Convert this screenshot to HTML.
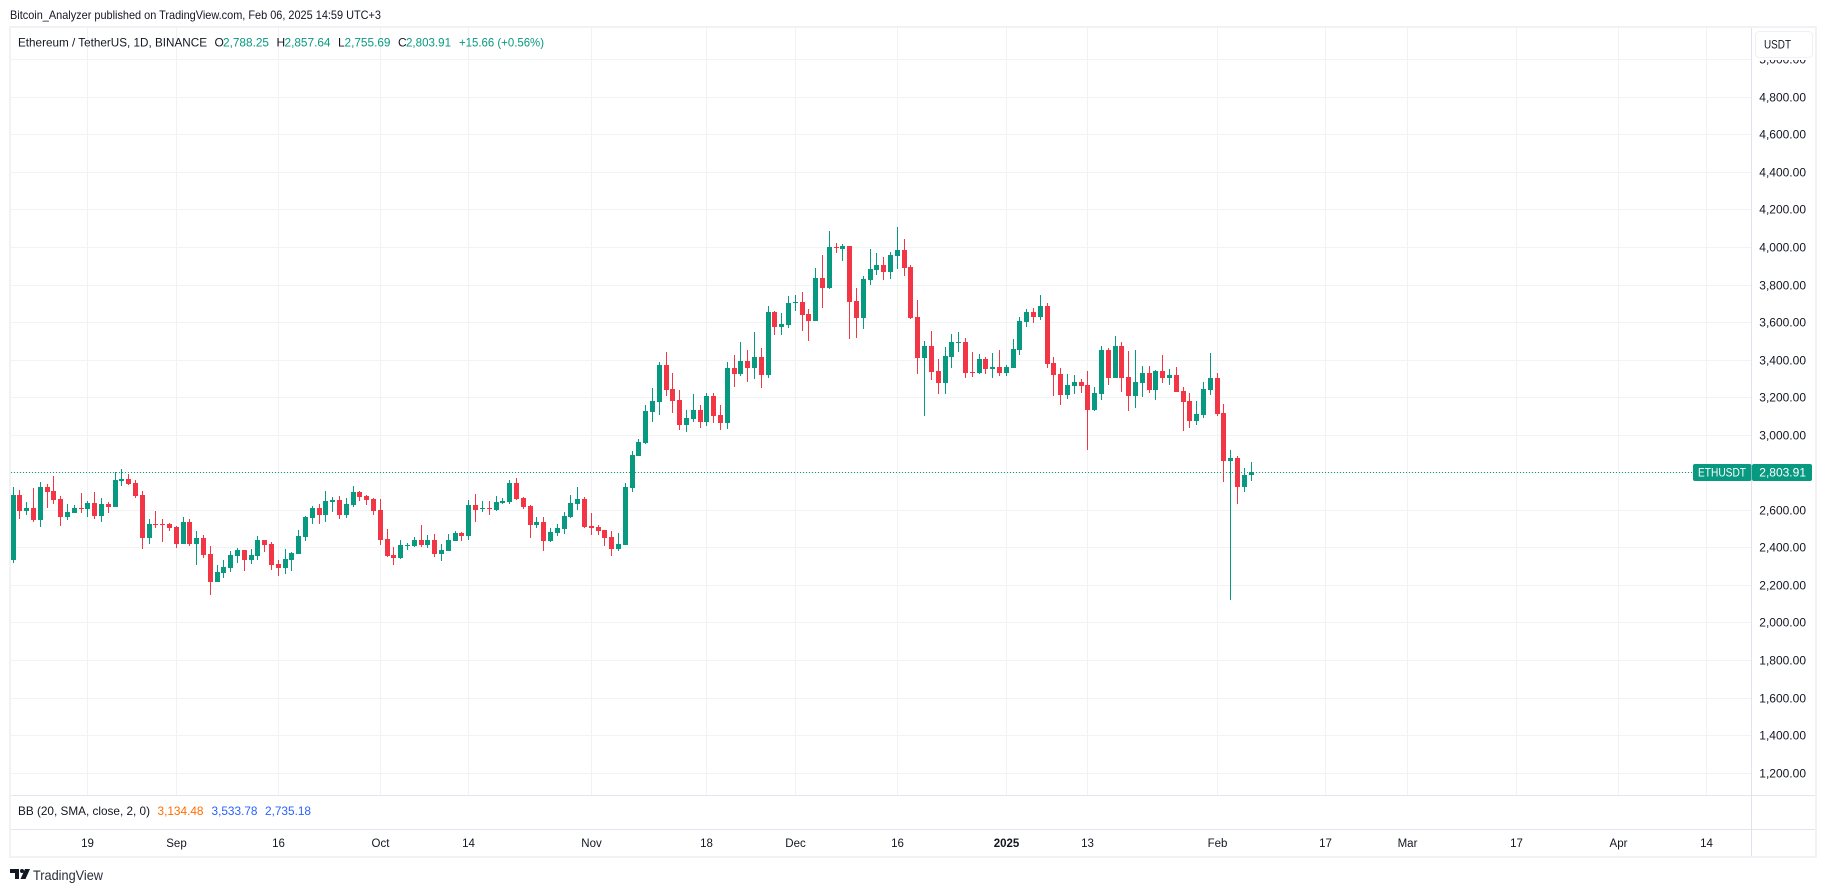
<!DOCTYPE html>
<html lang="en">
<head>
<meta charset="utf-8">
<title>ETHUSDT chart</title>
<style>
html,body{margin:0;padding:0;background:#fff;width:1827px;height:892px;overflow:hidden}
svg{display:block;position:absolute;left:0;top:0}
text{font-family:"Liberation Sans",sans-serif;font-size:12px;fill:#131722}
</style>
</head>
<body>
<svg id="chart" width="1827" height="892" viewBox="0 0 1827 892" xmlns="http://www.w3.org/2000/svg">
  <defs><clipPath id="plot-clip"><rect x="11" y="28" width="1740" height="767"/></clipPath></defs>
  <rect x="0" y="0" width="1827" height="892" fill="#ffffff"/>
  <text x="10" y="19" textLength="371" lengthAdjust="spacingAndGlyphs">Bitcoin_Analyzer published on TradingView.com, Feb 06, 2025 14:59 UTC+3</text>
  <g id="grid"></g>
  <g id="candles" clip-path="url(#plot-clip)"></g>
  <g fill="none">
    <rect x="10" y="27" width="1806" height="830" stroke="#f2f2f4" stroke-width="2"/>
    <line x1="11" x2="1815" y1="795.5" y2="795.5" stroke="#e4e5ee"/>
    <line x1="11" x2="1815" y1="829.5" y2="829.5" stroke="#e4e5ee"/>
    <line x1="1751.5" x2="1751.5" y1="28" y2="856" stroke="#e0e3eb"/>
  </g>
  <g id="price-axis"></g>
  <g id="time-axis"></g>
  <g>
    <rect x="1753" y="28" width="61" height="32" fill="#ffffff"/>
    <rect x="1755.5" y="31.5" width="57" height="26" rx="4" fill="#ffffff" stroke="#eef0f5"/>
    <text x="1764" y="48.5" textLength="27" lengthAdjust="spacingAndGlyphs">USDT</text>
  </g>
  <g>
    <text x="18" y="46.5" textLength="189" lengthAdjust="spacingAndGlyphs">Ethereum / TetherUS, 1D, BINANCE</text>
    <text x="214.5" y="46.5">O</text>
    <text x="223" y="46.5" style="fill:#089981" textLength="46" lengthAdjust="spacingAndGlyphs">2,788.25</text>
    <text x="276.5" y="46.5">H</text>
    <text x="284.5" y="46.5" style="fill:#089981" textLength="46" lengthAdjust="spacingAndGlyphs">2,857.64</text>
    <text x="338" y="46.5">L</text>
    <text x="344.5" y="46.5" style="fill:#089981" textLength="46" lengthAdjust="spacingAndGlyphs">2,755.69</text>
    <text x="398" y="46.5">C</text>
    <text x="406" y="46.5" style="fill:#089981" textLength="45" lengthAdjust="spacingAndGlyphs">2,803.91</text>
    <text x="459" y="46.5" style="fill:#089981" textLength="85" lengthAdjust="spacingAndGlyphs">+15.66 (+0.56%)</text>
  </g>
  <g>
    <text x="18" y="815" textLength="132" lengthAdjust="spacingAndGlyphs">BB (20, SMA, close, 2, 0)</text>
    <text x="157.5" y="815" style="fill:#ff6d00" textLength="46" lengthAdjust="spacingAndGlyphs">3,134.48</text>
    <text x="211.5" y="815" style="fill:#2962ff" textLength="46" lengthAdjust="spacingAndGlyphs">3,533.78</text>
    <text x="265" y="815" style="fill:#2962ff" textLength="46" lengthAdjust="spacingAndGlyphs">2,735.18</text>
  </g>
  <g>
    <g fill="#131722">
      <path d="M10 869h9v10h-4v-6h-5z"/>
      <circle cx="22" cy="871" r="2"/>
      <path d="M25 869h5l-4.5 10h-5z"/>
    </g>
    <text x="33" y="880" style="font-size:14px;fill:#2a2e39" textLength="70" lengthAdjust="spacingAndGlyphs">TradingView</text>
  </g>
  <g id="last-price"></g>
</svg>
<script>
// Daily ETH/USDT candles, Aug 8 2024 to Feb 6 2025
const opens = [
2335,2681,2596,2612,2548,2724,2703,2660,2564,2586,
2612,2607,2639,2570,2633,2617,2756,2767,2745,2681,
2452,2527,2527,2527,2511,2420,2538,2420,2452,2367,
2218,2266,2293,2356,2388,2335,2356,2442,2420,2314,
2293,2335,2367,2458,2559,2612,2575,2644,2655,2575,
2628,2697,2676,2660,2601,2447,2362,2346,2410,2410,
2442,2415,2442,2367,2383,2436,2479,2463,2628,2607,
2612,2601,2639,2644,2745,2665,2623,2522,2538,2436,
2479,2500,2564,2633,2660,2516,2511,2495,2458,2394,
2415,2719,2889,2959,3124,3177,3374,3246,3188,3054,
3086,3134,3070,3209,3108,3065,3358,3326,3395,3358,
3417,3321,3656,3576,3587,3704,3709,3646,3608,3837,
3784,4003,3992,4008,3715,3624,3827,3880,3907,3869,
3955,3987,3896,3630,3411,3475,3342,3278,3416,3491,
3496,3336,3331,3406,3353,3363,3331,3358,3454,3603,
3656,3630,3688,3385,3326,3214,3262,3283,3267,3134,
3220,3454,3305,3475,3310,3209,3278,3331,3241,3342,
3305,3321,3235,3182,3076,3108,3241,3305,3118,2863,
2879,2724,2788.25];
const highs = [
2724,2708,2644,2719,2751,2740,2783,2676,2633,2628,
2692,2649,2697,2665,2644,2804,2820,2793,2761,2703,
2554,2596,2554,2532,2516,2564,2554,2490,2468,2410,
2308,2335,2383,2399,2388,2394,2463,2442,2431,2335,
2394,2378,2495,2570,2623,2633,2703,2671,2676,2665,
2729,2703,2681,2665,2660,2500,2404,2442,2426,2458,
2522,2468,2474,2420,2474,2490,2484,2655,2687,2650,
2650,2676,2665,2761,2772,2671,2628,2564,2564,2506,
2527,2591,2681,2724,2671,2585,2522,2495,2490,2479,
2745,2916,2980,3161,3252,3390,3443,3331,3241,3134,
3220,3161,3225,3225,3161,3390,3427,3497,3454,3550,
3464,3688,3662,3651,3741,3747,3763,3672,3891,3960,
4088,4024,4019,4008,3784,3848,3992,3970,3949,3976,
4109,4045,3907,3720,3502,3555,3406,3470,3539,3550,
3518,3443,3432,3416,3438,3454,3374,3512,3630,3672,
3678,3747,3704,3417,3358,3326,3321,3299,3342,3257,
3475,3465,3529,3498,3449,3454,3369,3369,3347,3427,
3353,3363,3257,3225,3182,3283,3438,3331,3166,2921,
2889,2825,2857.64];
const lows = [
2319,2554,2575,2538,2511,2612,2633,2516,2548,2586,
2586,2564,2554,2538,2586,2617,2729,2735,2665,2394,
2420,2506,2431,2490,2399,2420,2410,2308,2346,2149,
2218,2239,2271,2319,2277,2314,2335,2378,2282,2250,
2261,2277,2367,2436,2527,2527,2538,2591,2554,2559,
2617,2650,2628,2575,2415,2351,2308,2340,2388,2404,
2404,2399,2351,2330,2383,2436,2436,2442,2538,2591,
2575,2596,2633,2633,2655,2607,2452,2506,2383,2431,
2463,2474,2559,2601,2506,2468,2468,2410,2356,2383,
2415,2697,2889,2953,3070,3108,3209,3118,3028,3017,
3070,3038,3049,3065,3028,3033,3257,3315,3283,3299,
3251,3305,3534,3534,3571,3662,3555,3502,3608,3678,
3779,3971,3928,3512,3518,3566,3800,3853,3827,3832,
3885,3848,3619,3326,3102,3294,3219,3219,3358,3443,
3305,3310,3326,3326,3305,3315,3315,3358,3427,3576,
3598,3613,3358,3209,3161,3193,3220,3225,2921,3129,
3187,3267,3305,3230,3129,3145,3204,3225,3187,3278,
3267,3230,3022,3038,3054,3092,3214,3102,2751,2122,
2633,2697,2755.69];
const closes = [
2681,2596,2612,2548,2724,2697,2655,2564,2591,2612,
2607,2639,2570,2633,2617,2761,2767,2740,2676,2452,
2527,2522,2522,2506,2420,2538,2420,2452,2362,2218,
2271,2298,2362,2388,2335,2362,2442,2415,2308,2293,
2340,2372,2463,2564,2612,2575,2650,2655,2575,2633,
2697,2671,2655,2596,2442,2356,2346,2415,2415,2442,
2415,2442,2367,2388,2442,2479,2463,2628,2601,2612,
2607,2644,2650,2745,2660,2617,2522,2538,2436,2484,
2506,2570,2639,2660,2511,2506,2490,2452,2394,2420,
2724,2894,2964,3129,3182,3374,3241,3182,3054,3092,
3134,3070,3209,3102,3065,3358,3326,3395,3358,3417,
3321,3656,3576,3592,3704,3709,3640,3608,3837,3784,
4003,3997,4008,3709,3624,3832,3885,3907,3869,3960,
3987,3891,3624,3411,3475,3337,3278,3422,3496,3496,
3331,3331,3406,3353,3363,3331,3363,3459,3608,3656,
3630,3688,3379,3321,3214,3267,3283,3262,3134,3225,
3454,3305,3475,3305,3209,3283,3331,3241,3342,3305,
3321,3230,3177,3076,3113,3246,3305,3113,2863,2879,
2724,2788,2803.91];
const priceTicks = [1200,1400,1600,1800,2000,2200,2400,2600,2800,3000,3200,3400,3600,3800,4000,4200,4400,4600,4800,5000];
const timeLabels = ['19','Sep','16','Oct','14','Nov','18','Dec','16','2025','13','Feb','17','Mar','17','Apr','14'];
const timeDayIndex = [11,24,39,54,67,85,102,115,130,146,158,177,193,205,221,236,249];
const lastPrice = 2803.91;
const symbolLabel = 'ETHUSDT';

const SVGNS = 'http://www.w3.org/2000/svg';
const GREEN = '#089981', RED = '#f23645';
const yScale = p => 510.3 - (p - 2600) * 0.18773;
const xScale = i => Math.floor(13 + i * 6.803);
function make(tag, attrs, parent) {
  const el = document.createElementNS(SVGNS, tag);
  for (const k in attrs) el.setAttribute(k, attrs[k]);
  parent.appendChild(el);
  return el;
}
const gridG = document.getElementById('grid');
const candlesG = document.getElementById('candles');
const priceG = document.getElementById('price-axis');
const timeG = document.getElementById('time-axis');
const lastG = document.getElementById('last-price');

priceTicks.forEach(p => {
  const y = Math.floor(yScale(p)) + 0.5;
  const line = make('line', {x1: 11, x2: 1751, y1: y, y2: y, stroke: '#f2f3f5'}, gridG);
  
  
  const t = make('text', {x: 1806, y: y + 4, 'text-anchor': 'end'}, priceG);
  
  
  t.textContent = p.toLocaleString('en-US', {minimumFractionDigits: 2, maximumFractionDigits: 2});
});
timeLabels.forEach((label, n) => {
  const x = xScale(timeDayIndex[n]) + 0.5;
  const line = make('line', {x1: x, x2: x, y1: 28, y2: 795, stroke: '#f1f2f4'}, gridG);
  
  
  const t = make('text', {x: x, y: 847, 'text-anchor': 'middle'}, timeG);
  
  
  t.style.fontSize = '11.5px';
  if (label === '2025') t.style.fontWeight = 'bold';
  t.textContent = label;
});
opens.forEach((o, i) => {
  const c = closes[i];
  const color = c >= o ? GREEN : RED;
  const px = xScale(i);
  const yh = Math.round(yScale(highs[i]));
  const yl = Math.round(yScale(lows[i]));
  const yt = Math.round(yScale(Math.max(o, c)));
  const yb = Math.round(yScale(Math.min(o, c)));
  const g = make('g', {'shape-rendering': 'crispEdges'}, candlesG);
  
  
  const wick = make('rect', {x: px, y: yh, width: 1, height: Math.max(1, yl - yh), fill: color}, g);
  
  
  const body = make('rect', {x: px - 2, y: yt, width: 5, height: Math.max(1, yb - yt), fill: color}, g);
  
  
});
const ly = Math.round(yScale(lastPrice)) + 0.5;
const dots = make('line', {x1: 11, x2: 1693, y1: ly, y2: ly, stroke: GREEN, 'stroke-width': 1, 'stroke-dasharray': '1 2'}, lastG);


const symBox = make('rect', {x: 1693, y: ly - 8.5, width: 58.5, height: 17, rx: 2, fill: GREEN}, lastG);


const priceBox = make('rect', {x: 1752, y: ly - 8.5, width: 60, height: 17, rx: 2, fill: GREEN}, lastG);


const symText = make('text', {x: 1698, y: ly + 4, textLength: 48, lengthAdjust: 'spacingAndGlyphs'}, lastG);


symText.style.fill = '#ffffff';
symText.textContent = symbolLabel;
const priceText = make('text', {x: 1806, y: ly + 4, 'text-anchor': 'end'}, lastG);


priceText.style.fill = '#ffffff';
priceText.textContent = lastPrice.toLocaleString('en-US', {minimumFractionDigits: 2});
</script>
</body>
</html>
